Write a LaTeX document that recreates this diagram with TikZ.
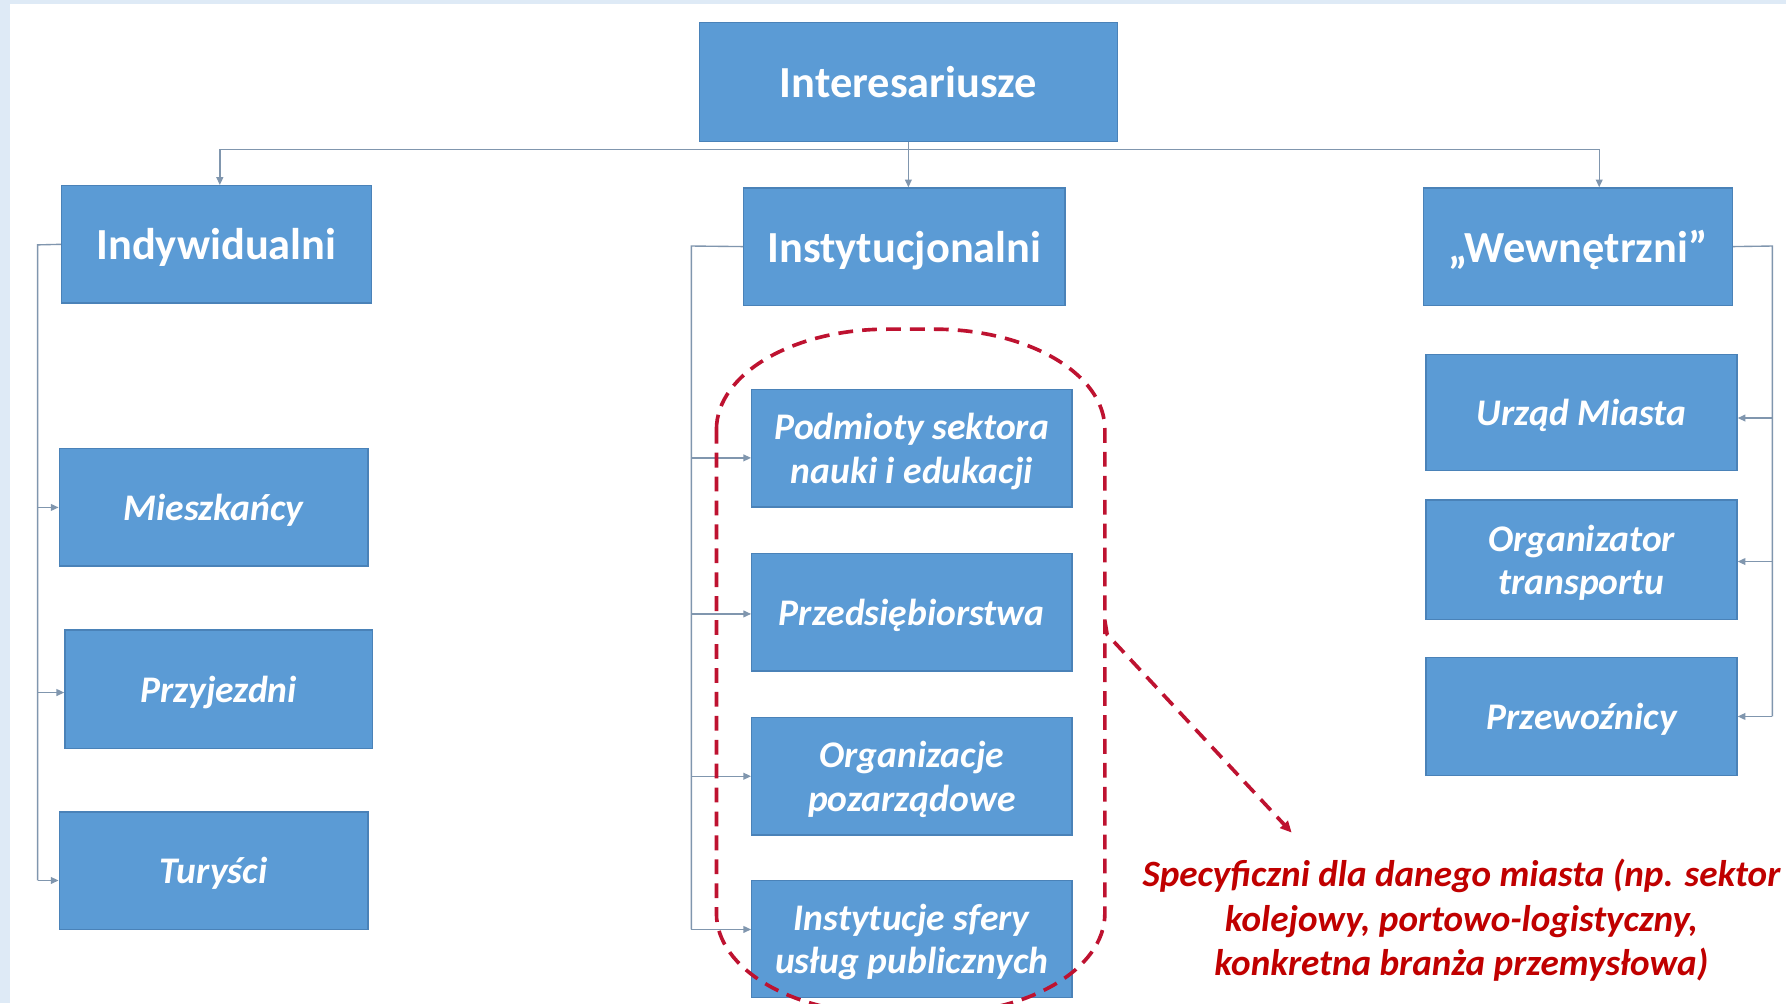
\documentclass[tikz,border=0pt]{standalone}
\usepackage{fontspec}
\setmainfont{Carlito}
\usetikzlibrary{arrows.meta,calc}
\definecolor{boxblue}{HTML}{5B9BD5}
\definecolor{boxedge}{HTML}{4A82B8}
\definecolor{conncol}{HTML}{8096AE}
\definecolor{reddash}{HTML}{BE1230}
\definecolor{redtext}{HTML}{C00000}
\definecolor{bgblue}{HTML}{DEEAF6}
\begin{document}
\begin{tikzpicture}[x=0.5pt,y=-0.5pt,
  sz/.style 2 args={minimum width={#1*0.5pt}, minimum height={#2*0.5pt}},
  hdr/.style={draw=boxedge, line width=0.6pt, fill=boxblue, text=white, text depth=0pt,
    font=\fontsize{19.5}{23}\selectfont\bfseries, inner sep=0pt, align=center},
  item/.style={draw=boxedge, line width=0.6pt, fill=boxblue, text=white, text depth=0pt,
    font=\fontsize{16.5}{19}\selectfont\bfseries\itshape, inner sep=0pt, align=center},
  conn/.style={draw=conncol, line width=0.6pt},
  arr/.style={conn, -{Triangle[length=3.4pt,width=3pt]}},
  redline/.style={draw=reddash, line width=1.6pt, dash pattern=on 6.5pt off 4pt},
]
\useasboundingbox (0,0) rectangle (1568,881);
\clip (0,0) rectangle (1568,881);
\fill[bgblue] (0,0) rectangle (1568,881);
\fill[white] (9,3.5) rectangle (1568,881);

% top level
\node[hdr, sz={367}{104}] (top) at (797.5,72) {Interesariusze};
\node[hdr, sz={272}{103}] (ind) at (190,214.5) {Indywidualni};
\node[hdr, sz={282}{103}] (ins) at (794,216.5) {Instytucjonalni};
\node[hdr, sz={271}{103}] (wew) at (1385.5,216.5) {„Wewnętrzni”};

% individual
\node[item, sz={271}{103}] (mie) at (187.5,445.5) {Mieszkańcy};
\node[item, sz={270}{104}] (prz) at (192,605) {Przyjezdni};
\node[item, sz={271}{103}] (tur) at (187.5,764.5) {Turyści};

% institutional
\node[item, sz={281}{103}] (pod) at (800.5,393.5) {Podmioty sektora\\nauki i edukacji};
\node[item, sz={281}{103}] (pre) at (800.5,537.5) {Przedsiębiorstwa};
\node[item, sz={281}{103}] (org) at (800.5,681.5) {Organizacje\\pozarządowe};
\node[item, sz={281}{103}] (isf) at (800.5,824.5) {Instytucje sfery\\usług publicznych};

% internal
\node[item, sz={273}{102}] (urz) at (1388.5,362) {Urząd Miasta};
\node[item, sz={273}{105}] (orgt) at (1388.5,491.5) {Organizator\\transportu};
\node[item, sz={273}{104}] (prze) at (1388.5,629) {Przewoźnicy};

% arrow entry points on the boxes
\coordinate (mieA) at (mie.west);
\coordinate (przA) at ([yshift=-1.5pt]prz.west);
\coordinate (turA) at ([yshift=-4.25pt]tur.west);
\coordinate (podA) at ([yshift=-4.25pt]pod.west);
\coordinate (preA) at ([yshift=-0.75pt]pre.west);
\coordinate (orgA) at (org.west);
\coordinate (isfA) at ([yshift=4.25pt]isf.west);
\coordinate (urzA) at ([yshift=-2.5pt]urz.east);
\coordinate (orgtA) at ([yshift=-0.75pt]orgt.east);
\coordinate (przeA) at (prze.east);

% top-level connectors
\coordinate (busL) at (193,131);
\coordinate (busR) at (1404,131);
\draw[conn] (busL) -- (busR);
\draw[arr] (busL) -- (busL |- ind.north);
\draw[arr] (busR) -- (busR |- wew.north);
\draw[arr] (top.south) -- (top.south |- ins.north);

% left bracket
\coordinate (lb) at (33,215);
\draw[conn] (ind.west) -- (lb) -- (lb |- turA);
\draw[arr] (lb |- mieA) -- (mieA);
\draw[arr] (lb |- przA) -- (przA);
\draw[arr] (lb |- turA) -- (turA);

% middle bracket
\coordinate (mb) at (607,216);
\draw[conn] (ins.west) -- (mb) -- (mb |- isfA);
\draw[arr] (mb |- podA) -- (podA);
\draw[arr] (mb |- preA) -- (preA);
\draw[arr] (mb |- orgA) -- (orgA);
\draw[arr] (mb |- isfA) -- (isfA);

% right bracket
\coordinate (rb) at (1556,216);
\draw[conn] (wew.east) -- (rb) -- (rb |- przeA);
\draw[arr] (rb |- urzA) -- (urzA);
\draw[arr] (rb |- orgtA) -- (orgtA);
\draw[arr] (rb |- przeA) -- (przeA);

% dashed grouping outline
\draw[redline] (629,377) .. controls (629,328.4) and (696.2,289) .. (779,289)
  -- (820,289) .. controls (902.8,289) and (970,328.4) .. (970,377)
  -- (970,802) .. controls (970,850.6) and (902.8,890) .. (820,890)
  -- (779,890) .. controls (696.2,890) and (629,850.6) .. (629,802) -- cycle;

% note
\node[font=\fontsize{16.3}{19.5}\selectfont\bfseries\itshape, text=redtext, align=center, inner sep=0pt]
  (spec) at (1283,808) {Specyficzni dla danego miasta (np. sektor\\kolejowy, portowo-logistyczny,\\konkretna branża przemysłowa)};
\coordinate (hook) at (970,545);
\coordinate (bend) at (972,557);
\coordinate (tip) at (1134,731);
\draw[redline, -{Triangle[length=5pt,width=4.5pt]}] (hook) -- (bend) -- (tip);
\end{tikzpicture}
\end{document}
